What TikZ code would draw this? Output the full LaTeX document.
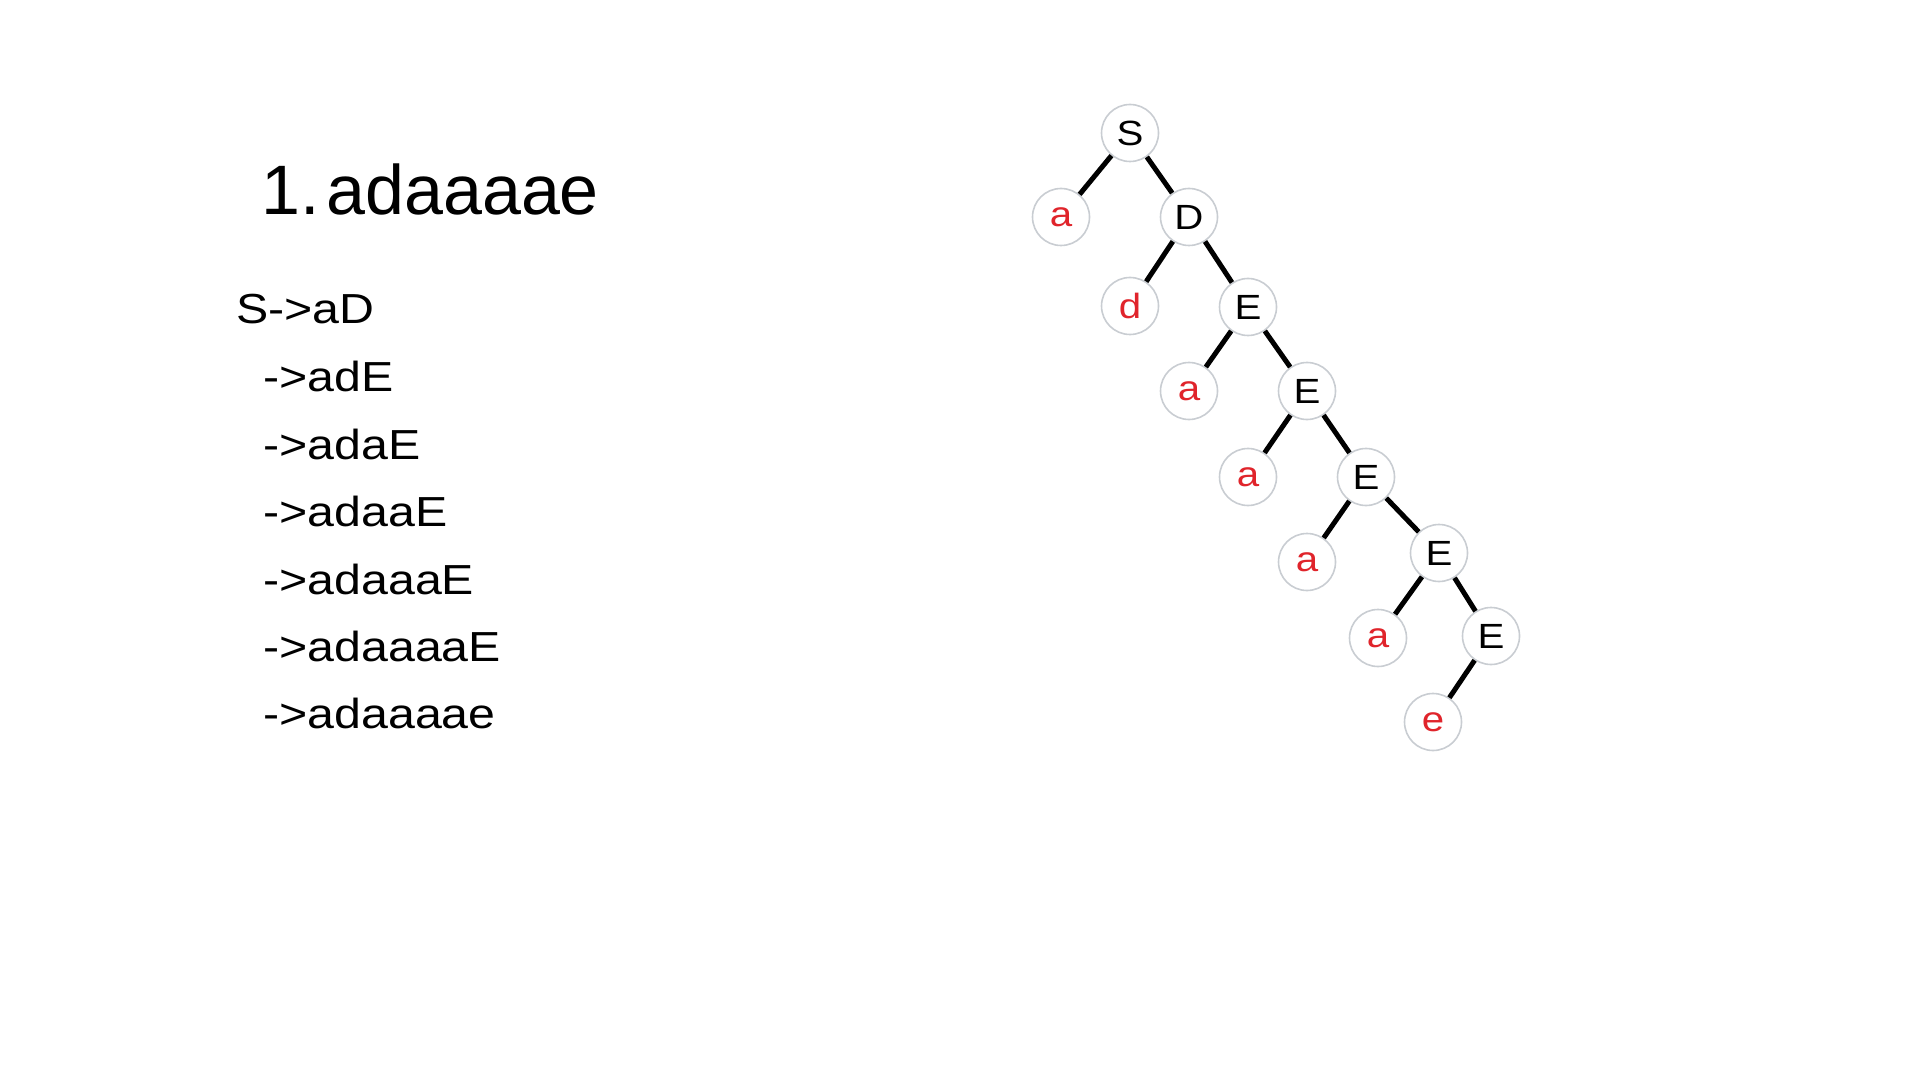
\documentclass[tikz,border=0pt]{standalone}
\usepackage{fontspec}
\setmainfont{Liberation Sans}
\usepackage{graphicx}
\usepackage{xcolor}
\usetikzlibrary{positioning}
\definecolor{tred}{HTML}{E0242B}
\definecolor{tring}{HTML}{C9CDD2}
\newcommand{\wide}[1]{\scalebox{1.15}[1]{#1}}
\tikzset{
  tnode/.style = {draw=tring, line width=0.8pt, circle, fill=white,
                  minimum size=28.5pt, inner sep=0pt, font=\fontsize{17.5}{20}\selectfont},
  term/.style  = {tnode, text=tred},
  branch/.style = {line width=2.5pt, black},
  deriv/.style = {anchor=base west, inner sep=0pt, font=\fontsize{21}{25}\selectfont},
  heading/.style = {anchor=base west, inner sep=0pt, font=\fontsize{35}{42}\selectfont},
}
\begin{document}
\begin{tikzpicture}[x=0.5pt,y=-0.5pt]
\useasboundingbox (0,0) rectangle (1920,1080);
% heading
\node[heading] (num) at (261,215) {1.};
\node[heading] (word) at (326,215) {adaaaae};
% derivation steps
\node[deriv] (d0) at (236,324) {\wide{S->aD}};
\foreach \y/\s [count=\i] in {392/adE, 459/adaE, 526/adaaE, 594/adaaaE, 661/adaaaaE, 728/adaaaae}{
  \node[deriv] (d\i) at (263,\y) {\wide{->\s}};}
% parse tree
\node[tnode] (S)  at (1130,133) {\wide{S}};
\node[term]  (a0) at (1061,217) {\wide{a}};
\node[tnode] (D)  at (1189,217) {\wide{D}};
\node[term]  (dd) at (1130,306) {\wide{d}};
\node[tnode] (E1) at (1248,307) {\wide{E}};
\node[term]  (a1) at (1189,391) {\wide{a}};
\node[tnode] (E2) at (1307,391) {\wide{E}};
\node[term]  (a2) at (1248,477) {\wide{a}};
\node[tnode] (E3) at (1366,477) {\wide{E}};
\node[term]  (a3) at (1307,562) {\wide{a}};
\node[tnode] (E4) at (1439,553) {\wide{E}};
\node[term]  (a4) at (1378,638) {\wide{a}};
\node[tnode] (E5) at (1491,636) {\wide{E}};
\node[term]  (ee) at (1433,722) {\wide{e}};
\foreach \p/\c in {S/a0, S/D, D/dd, D/E1, E1/a1, E1/E2, E2/a2, E2/E3, E3/a3, E3/E4, E4/a4, E4/E5, E5/ee}
  \draw[branch] (\p) -- (\c);
\end{tikzpicture}
\end{document}
